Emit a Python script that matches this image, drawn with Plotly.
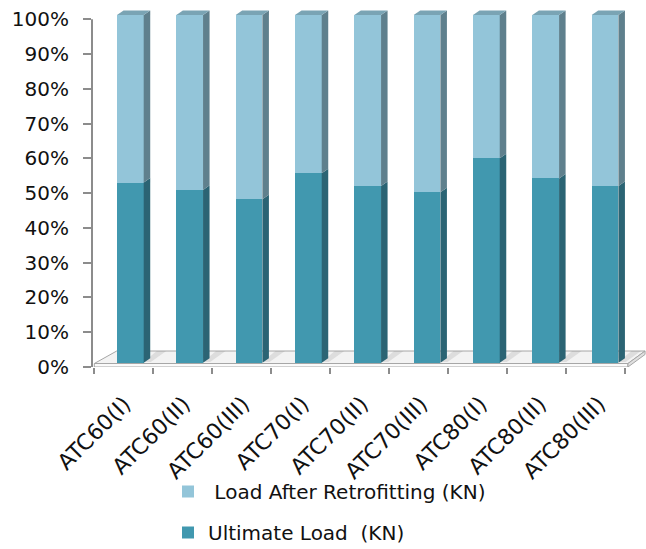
import plotly.graph_objects as go

# --- data -----------------------------------------------------------------
categories = ["ATC60(I)", "ATC60(II)", "ATC60(III)",
              "ATC70(I)", "ATC70(II)", "ATC70(III)",
              "ATC80(I)", "ATC80(II)", "ATC80(III)"]
ultimate_load = [51.8, 49.7, 47.0, 54.5, 50.8, 49.0, 58.8, 53.0, 50.8]
retrofit_load = [48.2, 50.3, 53.0, 45.5, 49.2, 51.0, 41.2, 47.0, 49.2]
y_ticks = [0, 10, 20, 30, 40, 50, 60, 70, 80, 90, 100]
y_tick_labels = [f"{t}%" for t in y_ticks]

# --- styling ----------------------------------------------------------------
FONT = "DejaVu Sans"
DARK_FRONT = "#4198af"
DARK_SIDE = "#2b6474"
LIGHT_FRONT = "#93c5d9"
LIGHT_SIDE = "#5f808d"
CAP = "#7aa4b4"
AXIS_GRAY = "#8c8c8c"

idx = list(range(len(categories)))
BAR_W = 0.45          # front face width (bar axis units)
DEPTH_X = 0.11        # 3-D depth offset of the bar sides
DEPTH_Y = 1.3
LABEL_SHIFT = -0.1    # rotated labels end slightly left of the column centre

fig = go.Figure()

# invisible trace to anchor the base (x, y) subplot
fig.add_trace(go.Scatter(x=[None], y=[None], showlegend=False, hoverinfo="skip"))

fig.add_trace(go.Bar(
    x=idx, y=ultimate_load, name="Ultimate Load  (KN)",
    xaxis="x2", yaxis="y2", width=BAR_W,
    marker=dict(color=DARK_FRONT, line=dict(width=0)),
    legendgroup="u", legendrank=2,
))
fig.add_trace(go.Bar(
    x=idx, y=retrofit_load, name=" Load After Retrofitting (KN)",
    xaxis="x2", yaxis="y2", width=BAR_W,
    marker=dict(color=LIGHT_FRONT, line=dict(width=0)),
    legendgroup="r", legendrank=1,
))

shapes = []

# floor slab of the 3-D plot area
def poly(pts):
    return "M " + " L ".join(f"{x},{y}" for x, y in pts) + " Z"

shapes.append(dict(type="path", xref="x", yref="y", layer="below",
                   path=poly([(-0.5, 1.0), (-0.12, 4.6), (8.84, 4.6), (8.55, 1.0)]),
                   fillcolor="#f3f3f3", line=dict(color="#a6a6a6", width=1)))
shapes.append(dict(type="path", xref="x", yref="y", layer="below",
                   path=poly([(-0.5, 0.0), (8.55, 0.0), (8.55, 1.0), (-0.5, 1.0)]),
                   fillcolor="#fbfbfb", line=dict(color="#a6a6a6", width=1)))
shapes.append(dict(type="path", xref="x", yref="y", layer="below",
                   path=poly([(8.55, 0.0), (8.84, 3.6), (8.84, 4.6), (8.55, 1.0)]),
                   fillcolor="#e0e0e0", line=dict(color="#a6a6a6", width=1)))

# side faces and top caps of each stacked column
for i, (u, r) in enumerate(zip(ultimate_load, retrofit_load)):
    total = u + r
    top_u = u / total * 100
    xl = i - BAR_W / 2
    xr = i + BAR_W / 2
    # soft shadow on the floor
    shapes.append(dict(type="path", xref="x2", yref="y2", layer="below",
                       path=poly([(xr, 0.2), (xr + 0.22, 3.4), (xr + 0.38, 3.4), (xr + 0.12, 0.2)]),
                       fillcolor="rgba(120,120,120,0.18)", line=dict(width=0)))
    shapes.append(dict(type="path", xref="x2", yref="y2", layer="above",
                       path=poly([(xr, 0), (xr + DEPTH_X, DEPTH_Y),
                                  (xr + DEPTH_X, top_u + DEPTH_Y), (xr, top_u)]),
                       fillcolor=DARK_SIDE, line=dict(width=0)))
    shapes.append(dict(type="path", xref="x2", yref="y2", layer="above",
                       path=poly([(xr, top_u), (xr + DEPTH_X, top_u + DEPTH_Y),
                                  (xr + DEPTH_X, 100 + DEPTH_Y), (xr, 100)]),
                       fillcolor=LIGHT_SIDE, line=dict(width=0)))
    shapes.append(dict(type="path", xref="x2", yref="y2", layer="above",
                       path=poly([(xl, 100), (xl + DEPTH_X, 100 + DEPTH_Y),
                                  (xr + DEPTH_X, 100 + DEPTH_Y), (xr, 100)]),
                       fillcolor=CAP, line=dict(width=0)))

# value axis line
shapes.append(dict(type="line", xref="paper", yref="y", x0=0, x1=0, y0=0, y1=100,
                   line=dict(color=AXIS_GRAY, width=2)))

fig.update_layout(
    width=646, height=549,
    margin=dict(l=92, r=0, t=5, b=182, autoexpand=False),
    paper_bgcolor="white", plot_bgcolor="white",
    font=dict(family=FONT, color="#111111"),
    barmode="stack", barnorm="percent",
    showlegend=True,
    legend=dict(
        orientation="v", traceorder="grouped", tracegroupgap=12,
        x=(168 - 92) / 554, xanchor="left", y=(367 - 472) / 362, yanchor="top",
        font=dict(family=FONT, size=20, color="#111111"),
        bgcolor="rgba(0,0,0,0)",
    ),
    xaxis=dict(
        type="linear", range=[-0.539, 8.856],
        tickmode="array", tickvals=[i - 0.5 for i in range(len(categories) + 1)],
        ticks="outside", ticklen=6, tickwidth=2, tickcolor=AXIS_GRAY,
        showticklabels=False, showgrid=False, zeroline=False, showline=False,
        fixedrange=True,
    ),
    yaxis=dict(
        range=[0, 104.11],
        tickmode="array", tickvals=y_ticks, ticktext=y_tick_labels,
        ticks="outside", ticklen=8, tickwidth=2, tickcolor=AXIS_GRAY,
        ticklabelstandoff=10,
        tickfont=dict(family=FONT, size=20, color="#111111"),
        showgrid=False, zeroline=False, showline=False,
        fixedrange=True,
    ),
    xaxis2=dict(
        type="linear", overlaying="x", anchor="y", side="bottom",
        range=[-0.6463, 8.690],
        tickmode="array", tickvals=[i + LABEL_SHIFT for i in idx], ticktext=categories,
        tickangle=-45, ticks="", showline=False, showgrid=False, zeroline=False,
        tickfont=dict(family=FONT, size=22, color="#111111"),
        ticklabelstandoff=19,
        fixedrange=True,
    ),
    yaxis2=dict(
        overlaying="y", anchor="x", range=[-1.237, 102.876],
        visible=False, showgrid=False, zeroline=False,
        fixedrange=True,
    ),
    bargap=0,
    shapes=shapes,
)

fig.write_html("out.html")
